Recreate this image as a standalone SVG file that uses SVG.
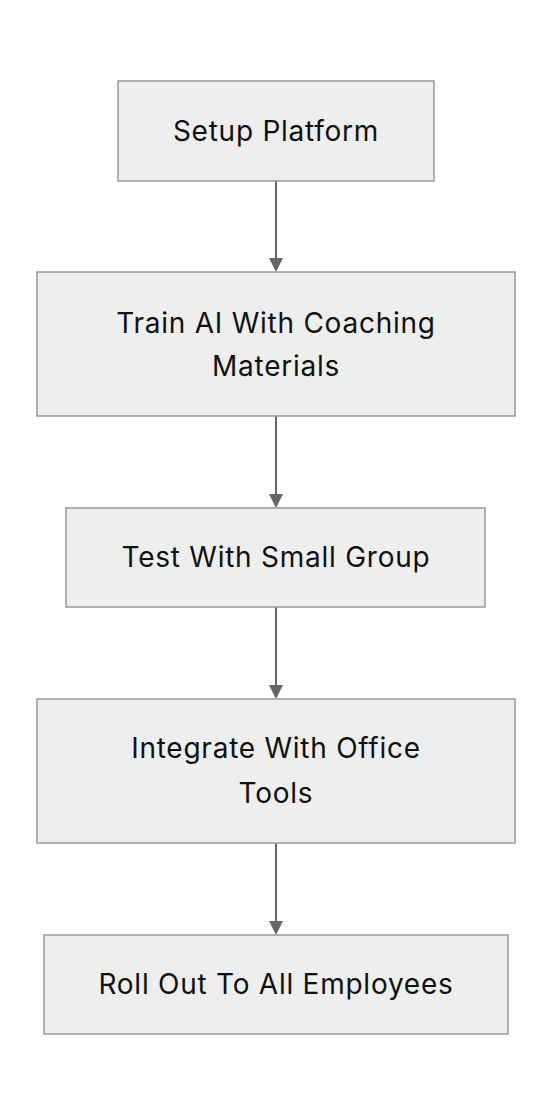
<svg xmlns="http://www.w3.org/2000/svg" width="552" height="1116" viewBox="0 0 552 1116">
<style>
.n{fill:#eeeeee;stroke:#999999;stroke-width:1.5}
.t{font-family:Inter,"Liberation Sans",sans-serif;font-size:28px;letter-spacing:0.75px;fill:#111111;text-anchor:middle}
.e{stroke:#666666;stroke-width:2;fill:none}
.h{fill:#666666}
</style>
<rect width="552" height="1116" fill="#ffffff"/>
<g id="connectors">
<line class="e" x1="276" y1="181" x2="276" y2="260"/>
<polygon class="h" points="269,258 283,258 276,272"/>
<line class="e" x1="276" y1="416" x2="276" y2="496"/>
<polygon class="h" points="269,494 283,494 276,508"/>
<line class="e" x1="276" y1="607" x2="276" y2="687"/>
<polygon class="h" points="269,685 283,685 276,699"/>
<line class="e" x1="276" y1="843" x2="276" y2="923"/>
<polygon class="h" points="269,921 283,921 276,935"/>
</g>
<g id="setup">
<rect class="n" x="118" y="81" width="316" height="100"/>
<text class="t" x="276" y="141">Setup Platform</text>
</g>
<g id="train">
<rect class="n" x="37" y="272" width="478" height="144"/>
<text class="t" x="276" y="333">Train AI With Coaching</text>
<text class="t" x="276" y="376">Materials</text>
</g>
<g id="test">
<rect class="n" x="66" y="508" width="419" height="99"/>
<text class="t" x="276" y="567">Test With Small Group</text>
</g>
<g id="integrate">
<rect class="n" x="37" y="699" width="478" height="144"/>
<text class="t" x="276" y="758">Integrate With Office</text>
<text class="t" x="276" y="803">Tools</text>
</g>
<g id="rollout">
<rect class="n" x="44" y="935" width="464" height="99"/>
<text class="t" x="276" y="994">Roll Out To All Employees</text>
</g>
</svg>
